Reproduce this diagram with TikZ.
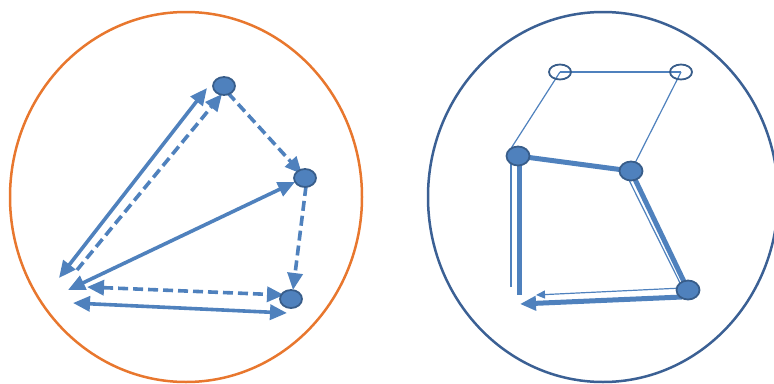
\documentclass[tikz,border=0pt]{standalone}
\usetikzlibrary{arrows.meta,shapes.geometric}
\pgfdeclarelayer{bg}
\pgfsetlayers{bg,main}
\definecolor{lblue}{HTML}{4F81BD}
\definecolor{dblue}{HTML}{385D8A}
\definecolor{orng}{HTML}{E8772E}
\definecolor{eblue}{HTML}{3B6094}
\begin{document}
\begin{tikzpicture}[x=1pt,y=-1pt,
  dot/.style={ellipse,draw=dblue,fill=lblue,line width=1.8pt,minimum width=22pt,minimum height=18pt,inner sep=0pt},
  bigdot/.style={dot,minimum width=23pt,minimum height=19pt},
  hollow/.style={ellipse,draw=dblue,line width=1.8pt,minimum width=22pt,minimum height=15pt,inner sep=0pt},
  con/.style={draw=lblue,line width=3.6pt},
  dsh/.style={con,dash pattern=on 10pt off 5pt},
  onehead/.style={-{Triangle[length=17pt,width=15pt]}},
  twohead/.style={{Triangle[length=17pt,width=15pt]}-{Triangle[length=17pt,width=15pt]}},
  thin/.style={draw=lblue,line width=1.2pt},
  thick/.style={draw=lblue,line width=5pt},
  frame/.style={line width=2.5pt}
]
\useasboundingbox (0,0) rectangle (774,383);
% outer ellipses
\draw[frame,draw=orng] (186,197) ellipse [x radius=176, y radius=185];
\draw[frame,draw=eblue] (603,197) ellipse [x radius=175, y radius=185];

% left diagram nodes
\node[dot] (T) at (224,86) {};
\node[dot] (R) at (305,178) {};
\node[dot] (B) at (291,299) {};
% free ends
\coordinate (a1s) at (59,278);  \coordinate (a1e) at (207,88);
\coordinate (a2s) at (77,270);  \coordinate (a2e) at (222,94);
\coordinate (a3s) at (228,93);  \coordinate (a3e) at (302,174);
\coordinate (a4s) at (68,290);  \coordinate (a4e) at (295,182);
\coordinate (a5s) at (306,186); \coordinate (a5e) at (293,290);
\coordinate (a6s) at (87,287);  \coordinate (a6e) at (284,295);
\coordinate (a7s) at (73,303);  \coordinate (a7e) at (287,313);
\begin{pgfonlayer}{bg}
\draw[con,twohead] (a1s) -- (a1e);
\draw[dsh,onehead] (a2s) -- (a2e);
\draw[dsh,onehead] (a3s) -- (a3e);
\draw[con,twohead] (a4s) -- (a4e);
\draw[dsh,onehead] (a5s) -- (a5e);
\draw[dsh,twohead] (a6s) -- (a6e);
\draw[con,twohead] (a7s) -- (a7e);
\end{pgfonlayer}

% right diagram nodes
\node[hollow] (O1) at (560,72) {};
\node[hollow] (O2) at (681,72) {};
\node[bigdot] (N1) at (518,156) {};
\node[bigdot] (N2) at (631,171) {};
\node[bigdot] (N3) at (688,290) {};
\coordinate (o1e) at (510,150);
\coordinate (v1s) at (511,150); \coordinate (v1e) at (511,287);
\coordinate (v2s) at (519,160); \coordinate (v2e) at (519,295);
\coordinate (p1s) at (626,174); \coordinate (p1e) at (683,289);
\coordinate (b1s) at (682,288); \coordinate (b1e) at (536,295);
\coordinate (b2s) at (682,297); \coordinate (b2e) at (520,304);
\begin{pgfonlayer}{bg}
\draw[thin] (O1.center) -- (O2.center);
\draw[thin] (O1.center) -- (o1e);
\draw[thin] (O2.center) -- (N2.center);
\draw[thick] (N1.center) -- (N2.center);
\draw[thick] (N2.center) -- (N3.center);
\draw[thin] (p1s) -- (p1e);
\draw[thin] (v1s) -- (v1e);
\draw[thick] (v2s) -- (v2e);
\draw[thin,-{Triangle[length=9pt,width=8pt]}] (b1s) -- (b1e);
\draw[thick,-{Triangle[length=16pt,width=14pt]}] (b2s) -- (b2e);
\end{pgfonlayer}
\end{tikzpicture}
\end{document}
